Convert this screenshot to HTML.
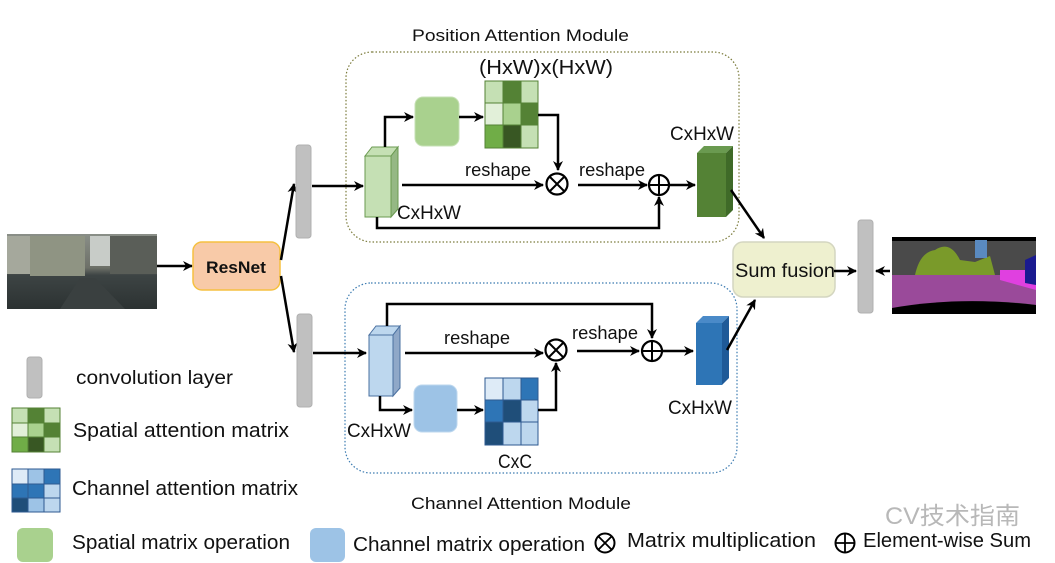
<!DOCTYPE html>
<html><head><meta charset="utf-8"><style>
html,body{margin:0;padding:0;background:#fff;width:1055px;height:563px;overflow:hidden}
svg text{font-family:"Liberation Sans","Noto Sans CJK SC",sans-serif;fill:#111}
</style></head><body>
<svg width="1055" height="563" viewBox="0 0 1055 563" xmlns="http://www.w3.org/2000/svg">
<defs>
<marker id="ah" markerWidth="10" markerHeight="10" refX="9" refY="5" orient="auto" markerUnits="userSpaceOnUse">
<path d="M0,0 L10,5 L0,10 L3,5 Z" fill="#000"/></marker>
<linearGradient id="street" x1="0" y1="0" x2="0" y2="1">
<stop offset="0" stop-color="#8a8f88"/><stop offset="0.45" stop-color="#6d7068"/><stop offset="0.55" stop-color="#3d4444"/><stop offset="1" stop-color="#2c3232"/></linearGradient>
</defs>

<text x="412" y="41" font-size="17" textLength="217" lengthAdjust="spacingAndGlyphs">Position Attention Module</text>
<text x="411" y="509" font-size="17" textLength="220" lengthAdjust="spacingAndGlyphs">Channel Attention Module</text>

<rect x="346" y="52" width="393" height="190" rx="26" fill="none" stroke="#7a7a3a" stroke-width="1.2" stroke-dasharray="1.5,2"/>
<rect x="345" y="283" width="392" height="190" rx="26" fill="none" stroke="#3a7ab0" stroke-width="1.2" stroke-dasharray="1.5,2"/>

<rect x="7" y="234" width="150" height="75" fill="url(#street)"/>
<rect x="7" y="236" width="60" height="38" fill="#a5a89c"/>
<rect x="30" y="236" width="55" height="40" fill="#8f9483"/>
<rect x="90" y="236" width="20" height="30" fill="#c8ccc8"/>
<rect x="110" y="236" width="47" height="38" fill="#5a5e58"/>
<path d="M60,309 L80,278 L95,278 L125,309 Z" fill="#3a4040"/>

<line x1="157" y1="266" x2="192" y2="266" stroke="#000" stroke-width="2.5" marker-end="url(#ah)"/>
<rect x="193" y="242" width="87" height="48" rx="9" fill="#f8caa8" stroke="#f5c040" stroke-width="1.5"/>
<text x="206" y="273" font-size="17" font-weight="bold" textLength="60" lengthAdjust="spacingAndGlyphs">ResNet</text>
<line x1="281" y1="260" x2="294" y2="184" stroke="#000" stroke-width="2.5" marker-end="url(#ah)"/>
<line x1="281" y1="276" x2="294" y2="352" stroke="#000" stroke-width="2.5" marker-end="url(#ah)"/>

<rect x="296" y="145" width="15" height="93" rx="3" fill="#c0c0c0" stroke="#b0b0b0"/>
<rect x="297" y="314" width="15" height="93" rx="3" fill="#c0c0c0" stroke="#b0b0b0"/>

<line x1="312" y1="186" x2="363" y2="186" stroke="#000" stroke-width="2.5" marker-end="url(#ah)"/>
<polygon points="365,156 372,147 398,147 391,156" fill="#c5e0b4" stroke="#6a9a50"/>
<polygon points="391,156 398,147 398,209 391,217" fill="#95b884" stroke="#6a9a50"/>
<rect x="365" y="156" width="26" height="61" fill="#c5e0b4" stroke="#6a9a50"/>
<polyline points="385,147 385,117 413,117" fill="none" stroke="#000" stroke-width="2.5" marker-end="url(#ah)"/>
<rect x="415" y="97" width="44" height="49" rx="8" fill="#a9d18e" stroke="#c5e0b4"/>
<line x1="459" y1="117" x2="483" y2="117" stroke="#000" stroke-width="2.5" marker-end="url(#ah)"/>
<g stroke="#548235" stroke-width="1">
<rect x="485" y="81" width="18" height="22" fill="#c5e0b4"/><rect x="503" y="81" width="18" height="22" fill="#548235"/><rect x="521" y="81" width="17" height="22" fill="#c5e0b4"/>
<rect x="485" y="103" width="18" height="22" fill="#e2f0d9"/><rect x="503" y="103" width="18" height="22" fill="#a9d18e"/><rect x="521" y="103" width="17" height="22" fill="#548235"/>
<rect x="485" y="125" width="18" height="23" fill="#70ad47"/><rect x="503" y="125" width="18" height="23" fill="#385723"/><rect x="521" y="125" width="17" height="23" fill="#c5e0b4"/>
</g>
<text x="479" y="74" font-size="20" textLength="134" lengthAdjust="spacingAndGlyphs">(HxW)x(HxW)</text>
<polyline points="538,115 558,115 558,170" fill="none" stroke="#000" stroke-width="2.5" marker-end="url(#ah)"/>
<text x="465" y="176" font-size="18" textLength="66" lengthAdjust="spacingAndGlyphs">reshape</text>
<line x1="402" y1="185" x2="543" y2="185" stroke="#000" stroke-width="2.5" marker-end="url(#ah)"/>
<circle cx="557" cy="184" r="10.5" fill="#fff" stroke="#000" stroke-width="2.2"/>
<path d="M550,177 L564,191 M564,177 L550,191" stroke="#000" stroke-width="2"/>
<text x="579" y="176" font-size="18" textLength="66" lengthAdjust="spacingAndGlyphs">reshape</text>
<line x1="578" y1="185" x2="647" y2="185" stroke="#000" stroke-width="2.5" marker-end="url(#ah)"/>
<circle cx="659" cy="185" r="10" fill="#fff" stroke="#000" stroke-width="2.2"/>
<path d="M649,185 L669,185 M659,175 L659,195" stroke="#000" stroke-width="2"/>
<polyline points="377,217 377,228 659,228 659,197" fill="none" stroke="#000" stroke-width="2.5" marker-end="url(#ah)"/>
<text x="397" y="219" font-size="19" textLength="64" lengthAdjust="spacingAndGlyphs">CxHxW</text>
<line x1="669" y1="185" x2="695" y2="185" stroke="#000" stroke-width="2.5" marker-end="url(#ah)"/>
<polygon points="697,153 704,146 733,146 726,153" fill="#6a9a50"/>
<polygon points="726,153 733,146 733,210 726,217" fill="#3f6a28"/>
<rect x="697" y="153" width="29" height="64" fill="#548235"/>
<text x="670" y="140" font-size="19" textLength="64" lengthAdjust="spacingAndGlyphs">CxHxW</text>
<line x1="731" y1="190" x2="764" y2="238" stroke="#000" stroke-width="2.5" marker-end="url(#ah)"/>

<line x1="313" y1="353" x2="366" y2="353" stroke="#000" stroke-width="2.5" marker-end="url(#ah)"/>
<polygon points="369,335 376,326 400,326 393,335" fill="#bdd7ee" stroke="#4a70a0"/>
<polygon points="393,335 400,326 400,388 393,396" fill="#8fa8c8" stroke="#4a70a0"/>
<rect x="369" y="335" width="24" height="61" fill="#bdd7ee" stroke="#4a70a0"/>
<polyline points="387,326 387,304 652,304 652,338" fill="none" stroke="#000" stroke-width="2.5" marker-end="url(#ah)"/>
<text x="444" y="344" font-size="18" textLength="66" lengthAdjust="spacingAndGlyphs">reshape</text>
<line x1="405" y1="353" x2="543" y2="353" stroke="#000" stroke-width="2.5" marker-end="url(#ah)"/>
<circle cx="556" cy="350" r="10.5" fill="#fff" stroke="#000" stroke-width="2.2"/>
<path d="M549,343 L563,357 M563,343 L549,357" stroke="#000" stroke-width="2"/>
<polyline points="380,396 380,410 412,410" fill="none" stroke="#000" stroke-width="2.5" marker-end="url(#ah)"/>
<rect x="414" y="385" width="43" height="47" rx="8" fill="#9dc3e6" stroke="#bdd7ee"/>
<line x1="457" y1="410" x2="483" y2="410" stroke="#000" stroke-width="2.5" marker-end="url(#ah)"/>
<g stroke="#2e5a90" stroke-width="1">
<rect x="485" y="378" width="18" height="22" fill="#deebf7"/><rect x="503" y="378" width="18" height="22" fill="#bdd7ee"/><rect x="521" y="378" width="17" height="22" fill="#2e75b6"/>
<rect x="485" y="400" width="18" height="22" fill="#2e75b6"/><rect x="503" y="400" width="18" height="22" fill="#1f4e79"/><rect x="521" y="400" width="17" height="22" fill="#bdd7ee"/>
<rect x="485" y="422" width="18" height="23" fill="#1f4e79"/><rect x="503" y="422" width="18" height="23" fill="#bdd7ee"/><rect x="521" y="422" width="17" height="23" fill="#bdd7ee"/>
</g>
<polyline points="538,410 556,410 556,363" fill="none" stroke="#000" stroke-width="2.5" marker-end="url(#ah)"/>
<text x="498" y="468" font-size="19" textLength="34" lengthAdjust="spacingAndGlyphs">CxC</text>
<text x="347" y="437" font-size="19" textLength="64" lengthAdjust="spacingAndGlyphs">CxHxW</text>
<text x="572" y="339" font-size="18" textLength="66" lengthAdjust="spacingAndGlyphs">reshape</text>
<line x1="577" y1="351" x2="639" y2="351" stroke="#000" stroke-width="2.5" marker-end="url(#ah)"/>
<circle cx="652" cy="351" r="10" fill="#fff" stroke="#000" stroke-width="2.2"/>
<path d="M642,351 L662,351 M652,341 L652,361" stroke="#000" stroke-width="2"/>
<line x1="662" y1="351" x2="693" y2="351" stroke="#000" stroke-width="2.5" marker-end="url(#ah)"/>
<polygon points="696,323 703,316 729,316 722,323" fill="#4a8ac8"/>
<polygon points="722,323 729,316 729,378 722,385" fill="#1f5a98"/>
<rect x="696" y="323" width="26" height="62" fill="#2e75b6"/>
<text x="668" y="414" font-size="19" textLength="64" lengthAdjust="spacingAndGlyphs">CxHxW</text>
<line x1="727" y1="350" x2="755" y2="300" stroke="#000" stroke-width="2.5" marker-end="url(#ah)"/>

<rect x="733" y="242" width="102" height="55" rx="10" fill="#eef0cf" stroke="#d4d6c0" stroke-width="1.5"/>
<text x="735" y="277" font-size="19" textLength="100" lengthAdjust="spacingAndGlyphs">Sum fusion</text>
<line x1="834" y1="271" x2="856" y2="271" stroke="#000" stroke-width="2.5" marker-end="url(#ah)"/>
<rect x="858" y="220" width="15" height="93" rx="3" fill="#c0c0c0" stroke="#b0b0b0"/>
<line x1="890" y1="271" x2="876" y2="271" stroke="#000" stroke-width="2.5" marker-end="url(#ah)"/>

<rect x="892" y="237" width="144" height="77" fill="#4a4a4a"/>
<rect x="892" y="237" width="144" height="4" fill="#000"/>
<path d="M915,275 Q920,252 935,250 Q950,240 960,260 L975,262 L990,256 L995,275 Z" fill="#7a9a2a"/>
<rect x="975" y="240" width="12" height="18" fill="#5a8ac0"/>
<path d="M892,275 L1000,275 L1036,285 L1036,305 Q1000,300 960,302 L892,310 Z" fill="#9a4a9a"/>
<path d="M1000,270 L1036,270 L1036,290 L1000,280 Z" fill="#e040e0"/>
<path d="M1025,260 L1036,255 L1036,285 L1025,283 Z" fill="#1a1a90"/>
<path d="M892,308 Q960,296 1036,305 L1036,314 L892,314 Z" fill="#000"/>

<rect x="27" y="357" width="15" height="41" rx="3" fill="#c0c0c0" stroke="#b0b0b0"/>
<text x="76" y="384" font-size="19" textLength="157" lengthAdjust="spacingAndGlyphs">convolution layer</text>
<g stroke="#548235" stroke-width="1">
<rect x="12" y="408" width="16" height="15" fill="#c5e0b4"/><rect x="28" y="408" width="16" height="15" fill="#548235"/><rect x="44" y="408" width="16" height="15" fill="#c5e0b4"/>
<rect x="12" y="423" width="16" height="14" fill="#e2f0d9"/><rect x="28" y="423" width="16" height="14" fill="#a9d18e"/><rect x="44" y="423" width="16" height="14" fill="#548235"/>
<rect x="12" y="437" width="16" height="15" fill="#70ad47"/><rect x="28" y="437" width="16" height="15" fill="#385723"/><rect x="44" y="437" width="16" height="15" fill="#c5e0b4"/>
</g>
<text x="73" y="437" font-size="20" textLength="216" lengthAdjust="spacingAndGlyphs">Spatial attention matrix</text>
<g stroke="#2e5a90" stroke-width="1">
<rect x="12" y="469" width="16" height="15" fill="#deebf7"/><rect x="28" y="469" width="16" height="15" fill="#9dc3e6"/><rect x="44" y="469" width="16" height="15" fill="#2e75b6"/>
<rect x="12" y="484" width="16" height="14" fill="#2e75b6"/><rect x="28" y="484" width="16" height="14" fill="#2e75b6"/><rect x="44" y="484" width="16" height="14" fill="#bdd7ee"/>
<rect x="12" y="498" width="16" height="14" fill="#1f4e79"/><rect x="28" y="498" width="16" height="14" fill="#9dc3e6"/><rect x="44" y="498" width="16" height="14" fill="#bdd7ee"/>
</g>
<text x="72" y="495" font-size="20" textLength="226" lengthAdjust="spacingAndGlyphs">Channel attention matrix</text>
<rect x="17" y="528" width="36" height="34" rx="6" fill="#a9d18e"/>
<text x="72" y="549" font-size="20" textLength="218" lengthAdjust="spacingAndGlyphs">Spatial matrix operation</text>
<rect x="310" y="528" width="35" height="34" rx="6" fill="#9dc3e6"/>
<text x="353" y="551" font-size="20" textLength="232" lengthAdjust="spacingAndGlyphs">Channel matrix operation</text>
<circle cx="605" cy="543" r="9.5" fill="#fff" stroke="#000" stroke-width="2"/>
<path d="M598.5,536.5 L611.5,549.5 M611.5,536.5 L598.5,549.5" stroke="#000" stroke-width="1.8"/>
<text x="627" y="547" font-size="20" textLength="189" lengthAdjust="spacingAndGlyphs">Matrix multiplication</text>
<circle cx="845" cy="543" r="9.5" fill="#fff" stroke="#000" stroke-width="2"/>
<path d="M835.5,543 L854.5,543 M845,533.5 L845,552.5" stroke="#000" stroke-width="1.8"/>
<text x="863" y="547" font-size="20" textLength="168" lengthAdjust="spacingAndGlyphs">Element-wise Sum</text>
<text x="885" y="524" font-size="24" style="fill:#b8b8b8" textLength="135" lengthAdjust="spacingAndGlyphs">CV技术指南</text>
</svg>
</body></html>
